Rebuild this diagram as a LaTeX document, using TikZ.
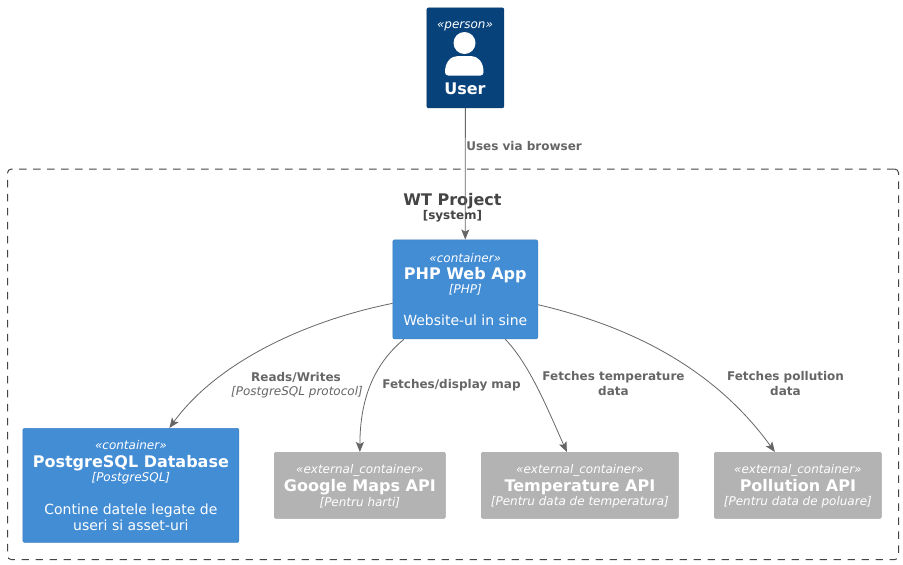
\documentclass[tikz,border=0pt]{standalone}
\usepackage{fontspec}
\setmainfont{DejaVu Sans}
\usetikzlibrary{arrows.meta}
\AtBeginDocument{\lineskiplimit=-100pt\relax}
\definecolor{personblue}{HTML}{08427B}
\definecolor{personedge}{HTML}{073B6F}
\definecolor{contblue}{HTML}{438DD5}
\definecolor{contedge}{HTML}{3C7FC0}
\definecolor{extgrey}{HTML}{B3B3B3}
\definecolor{extedge}{HTML}{A6A6A6}
\definecolor{linkgrey}{HTML}{666666}
\definecolor{titlegrey}{HTML}{444444}
\newcommand{\stereo}[1]{{\fontsize{9}{9}\selectfont\itshape #1}}
\newcommand{\bigname}[1]{{\fontsize{12}{9}\selectfont\bfseries #1}}
\newcommand{\tech}[1]{{\fontsize{9}{9}\selectfont\itshape #1}}
\newcommand{\descr}[1]{{\fontsize{10.5}{9}\selectfont #1}}
\tikzset{
  boxbase/.style={draw, rounded corners=1.5pt, line width=0.4pt, text=white, inner sep=0pt,
    font=\fontsize{9}{9}\selectfont},
  personbox/.style={boxbase, fill=personblue, draw=personedge},
  contbox/.style={boxbase, align=center, fill=contblue, draw=contedge},
  extbox/.style={boxbase, align=center, fill=extgrey, draw=extedge},
  link/.style={draw=linkgrey, line width=0.6pt, -{Stealth[length=7.5pt,width=6pt,inset=1.6pt]}},
  linklabel/.style={text=linkgrey, inner sep=0pt, font=\fontsize{9}{11}\selectfont},
  frame/.style={draw=titlegrey, dash pattern=on 5.6pt off 4.9pt, line width=0.75pt, rounded corners=3pt},
  grouptitle/.style={text=titlegrey, inner sep=0pt, font=\bfseries}
}
\begin{document}
\begin{tikzpicture}[x=0.75pt,y=-0.75pt]
\useasboundingbox (0,0) rectangle (903,564);
\fill[white] (0,0) rectangle (903,564);
% boundary
\node[frame, minimum width=668.3pt, minimum height=293pt, anchor=north west, inner sep=0pt] (boundary) at (7,168.5) {};
\node[grouptitle, anchor=base, font=\fontsize{12}{12}\selectfont\bfseries] (wttitle) at (452.5,205) {WT Project};
\node[grouptitle, anchor=base, font=\fontsize{9}{9}\selectfont\bfseries] (wtsys) at (452.5,219.5) {[system]};
% nodes
\node[personbox, minimum width=57.9pt, minimum height=75.15pt, anchor=north west] (user) at (426.5,7.5) {};
\node[anchor=base, text=white, inner sep=0pt, font=\fontsize{9}{9}\selectfont\itshape] (userst) at (465,28) {«person»};
\node[anchor=base, text=white, inner sep=0pt, font=\fontsize{12}{12}\selectfont\bfseries] (username) at (465,94) {User};
\fill[white] (464.5,43) circle[radius=11];
\fill[white] (448,75.5) .. controls (446,75.5) and (445,74) .. (445,72) .. controls (445,62) and (451,56) .. (458,56) -- (471,56) .. controls (478,56) and (483.5,62) .. (483.5,72) .. controls (483.5,74) and (482.5,75.5) .. (480.5,75.5) -- cycle;

\node[contbox, minimum width=108.75pt, minimum height=74.4pt, anchor=north west] (php) at (392.5,239.5) {\stereo{«container»}\\[3.75pt]\bigname{PHP Web App}\\[1.5pt]\tech{[PHP]}\\[15pt]\descr{Website-ul in sine}};
\node[contbox, minimum width=162.15pt, minimum height=85.65pt, anchor=north west] (db) at (22.5,428) {\stereo{«container»}\\[4.25pt]\bigname{PostgreSQL Database}\\[1.5pt]\tech{[PostgreSQL]}\\[15.75pt]\descr{Contine datele legate de}\\[3pt]\descr{useri si asset-uri}};
\node[extbox, minimum width=128.4pt, minimum height=49.65pt, anchor=north west] (maps) at (274,452) {\rule{0pt}{8.3pt}\stereo{«external\_container»}\\[4.25pt]\bigname{Google Maps API}\\[2pt]\tech{[Pentru harti]}};
\node[extbox, minimum width=147.9pt, minimum height=49.65pt, anchor=north west] (temp) at (481,452) {\rule{0pt}{8.3pt}\stereo{«external\_container»}\\[4.25pt]\bigname{Temperature API}\\[2pt]\tech{[Pentru data de temperatura]}};
\node[extbox, minimum width=125.4pt, minimum height=49.65pt, anchor=north west] (poll) at (714,452) {\rule{0pt}{8.3pt}\stereo{«external\_container»}\\[4.25pt]\bigname{Pollution API}\\[2pt]\tech{[Pentru data de poluare]}};
% connectors
\draw[link] (user.south) -- (php.north);
\draw[link] ([yshift=-10.5pt]php.west) .. controls (300,322) and (215,365) .. ([xshift=28.9pt]db.north);
\draw[link] ([xshift=-46pt]php.south) .. controls (373,365) and (360,400) .. (maps.north);
\draw[link] ([xshift=30pt]php.south) .. controls (530,365) and (548,410) .. ([xshift=-9.75pt]temp.north);
\draw[link] ([yshift=-11.5pt]php.east) .. controls (625,325) and (712,365) .. ([xshift=-17.25pt]poll.north);
% labels
\node[linklabel, anchor=base west] (l1) at (466,150) {\bfseries Uses via browser};
\node[linklabel, anchor=base] (l2a) at (296,381) {\bfseries Reads/Writes};
\node[linklabel, anchor=base] (l2b) at (297,395) {\itshape [PostgreSQL protocol]};
\node[linklabel, anchor=base] (l3) at (451.5,388) {\bfseries Fetches/display map};
\node[linklabel, anchor=base] (l4a) at (613.5,380) {\bfseries Fetches temperature};
\node[linklabel, anchor=base] (l4b) at (613.5,395) {\bfseries data};
\node[linklabel, anchor=base] (l5a) at (785.5,380) {\bfseries Fetches pollution};
\node[linklabel, anchor=base] (l5b) at (785.5,395) {\bfseries data};
\end{tikzpicture}
\end{document}
